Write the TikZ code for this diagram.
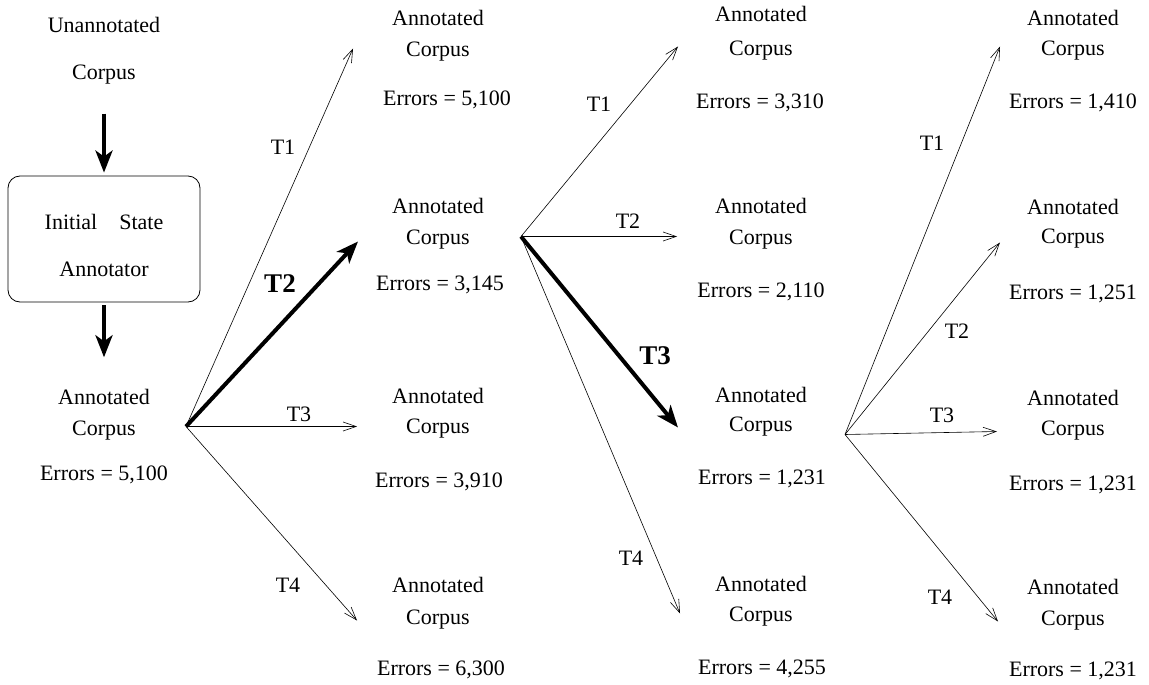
\documentclass[tikz,border=0pt]{standalone}
\usepackage{fontspec}
\setmainfont{Liberation Serif}
\usetikzlibrary{arrows.meta}

\begin{document}
\begin{tikzpicture}[
  x=1pt, y=-1pt,
  every node/.style={
    font=\fontsize{22}{26}\selectfont,
    inner sep=0pt,
    text height=15pt,
    text depth=5pt,
    yshift=-2.5pt,
  },
  stagebox/.style={
    draw,
    rounded corners=12pt,
    line width=0.8pt,
    minimum width=192pt,
    minimum height=126pt,
    yshift=0pt,
  },
  thin arrow/.style={
    -{Straight Barb[length=13pt,width=9pt]},
    line width=0.6pt,
  },
  bold arrow/.style={
    -{Stealth[length=22pt,width=17pt,inset=6pt]},
    line width=4pt,
  },
  boldname/.style={
    font=\fontsize{27}{30}\selectfont\bfseries,
  }
]
\useasboundingbox (0,0) rectangle (1149,685);
% start of the learner
\node (una) at (104,25) {Unannotated};
\node (unc) at (104,72) {Corpus};
\node[stagebox] (isa) at (104,236.5) {};
\node (isa-1) at (104,222) {Initial\hspace{22pt}State};
\node (isa-2) at (104,269) {Annotator};
\node (ann-a) at (104,397) {Annotated};
\node (cor-a) at (104,428) {Corpus};
\node (err-a) at (104,473) {Errors = 5,100};
\draw[bold arrow, shorten <=29pt, shorten >=3pt] (unc) -- (isa);
\draw[bold arrow, shorten <=3pt, shorten >=32pt] (isa) -- (ann-a);
% candidate corpora
\foreach \nm/\x/\ya/\yc/\xe/\ye/\e in {
  b1/438/18/49/447/98/{5,100}, b2/438/206/237/440/283/{3,145},
  b3/438/396/426/439/480/{3,910}, b4/438/585/617/441/668/{6,300},
  c1/761/14/48/760/101/{3,310}, c2/761/206/237/761/290/{2,110},
  c3/761/395/424/762/477/{1,231}, c4/761/584/614/762/667/{4,255},
  d1/1073/18/48/1073/101/{1,410}, d2/1073/207/236/1073/292/{1,251},
  d3/1073/398/428/1073/483/{1,231}, d4/1073/587/618/1073/669/{1,231}} {
  \node (ann-\nm) at (\x,\ya) {Annotated};
  \node (cor-\nm) at (\x,\yc) {Corpus};
  \node (err-\nm) at (\xe,\ye) {Errors = \e};
}
% fans of transformations
\coordinate (fan-a) at (186,424);
\coordinate (fan-b) at (521,234);
\coordinate (fan-c) at (845,432);
\foreach \f/\k/\tx/\ty in {
  a/1/353/46, a/2/358/239, a/3/357/424, a/4/357/618,
  b/1/678/44, b/2/677/234, b/3/678/425, b/4/680/611,
  c/1/1000/44, c/2/1000/240, c/3/997/429, c/4/998/619} {
  \coordinate (tip-\f\k) at (\tx,\ty);
}
\foreach \f/\k in {a/1,a/3,a/4,b/1,b/2,b/4,c/1,c/2,c/3,c/4} {
  \draw[thin arrow] (fan-\f) -- (tip-\f\k);
}
\draw[bold arrow] (fan-a) -- (tip-a2);
\draw[bold arrow] (fan-b) -- (tip-b3);
% rule names
\foreach \f/\k/\lx/\ly in {
  a/1/283/147, a/3/299/414, a/4/288/585,
  b/1/599/104, b/2/628/221, b/4/631/558,
  c/1/932/143, c/2/957/331, c/3/942/415, c/4/940/597} {
  \node (t-\f\k) at (\lx,\ly) {T\k};
}
\node[boldname] (t-a2) at (280,285) {T2};
\node[boldname] (t-b3) at (655,357) {T3};
\end{tikzpicture}
\end{document}
